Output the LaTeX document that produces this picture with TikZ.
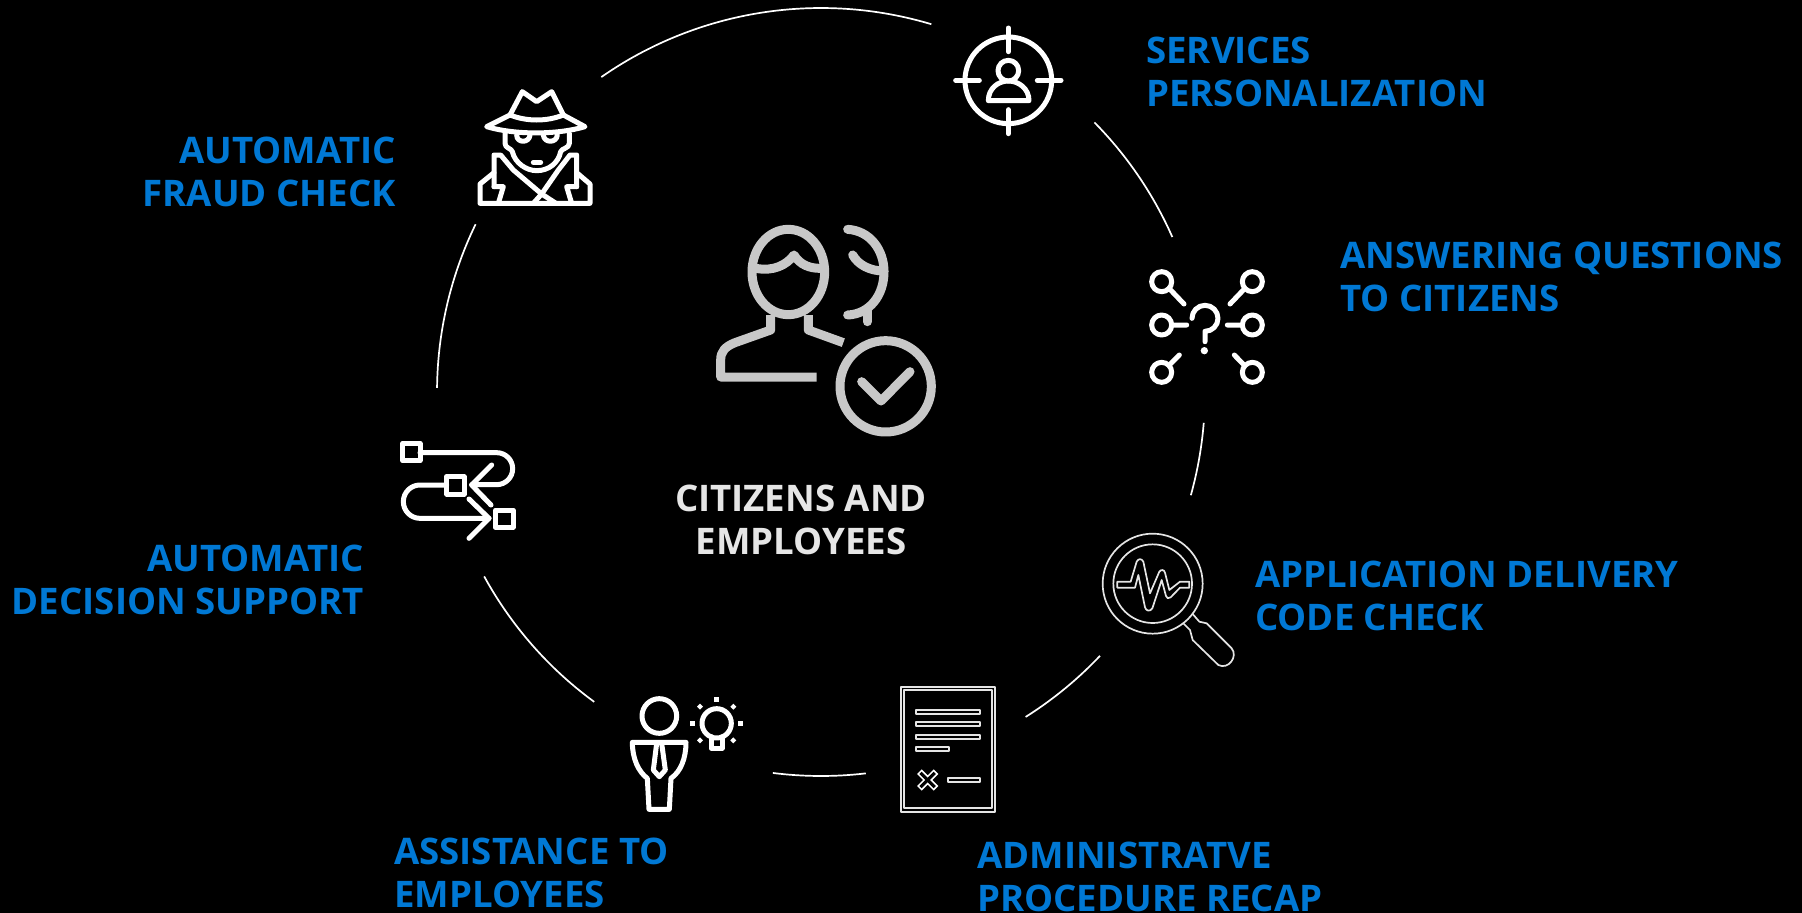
\documentclass[tikz,border=0pt]{standalone}
\usepackage{fontspec}
\setmainfont{Open Sans}
\definecolor{lblue}{HTML}{0078D4}
\definecolor{cgray}{HTML}{C8C8C8}
\definecolor{ctext}{HTML}{E6E6E6}
\tikzset{
  lab/.style={inner sep=0pt,text=lblue,font=\fontsize{36.6}{43}\selectfont\bfseries,align=left,anchor=base west},
  labr/.style={lab,align=right,anchor=base east},
  ring/.style={draw=white,line width=1.7pt},
  ico/.style={draw=white,line width=5pt,line cap=round,line join=round},
  big/.style={draw=cgray,line width=9pt,line cap=round,line join=round},
  thin/.style={draw=white!90!black,line width=1.7pt,line join=round}
}
\begin{document}
\begin{tikzpicture}[x=1pt,y=-1pt]
\fill[black] (0,0) rectangle (1802,913);
\useasboundingbox (0,0) rectangle (1802,913);
% ring arcs
\foreach \a/\b in {-124.9/-73.3,-44.6/-23.8,4.6/15.6,43.4/57.8,83.3/97.2,126.2/151.3,180.6/205.9}
  \draw[ring] (821,392) ++(\a:384) arc[start angle=\a,end angle=\b,radius=384];
% target icon
\begin{scope}[shift={(920,0)},scale=1/3]
  \draw[ico] (265,241) circle[radius=130];
  \draw[ico] (107,241)--(178,241) (352,241)--(423,241) (265,84)--(265,155) (265,329)--(265,401);
  \draw[ico] (265,212) circle[radius=31];
  \draw[ico] (205,302) .. controls (205,265) and (235,243) .. (265,243) .. controls (295,243) and (327,265) .. (327,302) -- cycle;
\end{scope}
% central icon
\begin{scope}[shift={(680,200)},scale=1/3]
  \draw[big] (325,216) ellipse[x radius=109,y radius=128];
  \draw[big] (228,205) .. controls (280,215) and (320,195) .. (342,165) .. controls (360,195) and (390,205) .. (420,205);
  \draw[big,line cap=butt] (272,345) -- (272,390) -- (165,428) .. controls (135,440) and (122,455) .. (122,480) -- (122,531) -- (410,531);
  \draw[big,line cap=butt] (385,345) -- (385,390) -- (490,428);
  \draw[big] (503,88) .. controls (570,92) and (612,150) .. (612,215) .. controls (612,285) and (570,342) .. (503,345);
  \draw[big] (518,165) .. controls (535,195) and (570,213) .. (612,213);
  \draw[big] (562,330) -- (562,365);
  \draw[big] (617,559) circle[radius=137];
  \draw[big] (545,545) -- (603,603) -- (690,515);
\end{scope}
% question network
\begin{scope}[shift={(1120,250)},scale=1/3]
  \foreach \p in {(125,95),(397,95),(125,225),(397,225),(125,367),(397,367)}
    \draw[ico] \p circle[radius=30];
  \draw[ico] (150,118)--(192,162) (372,118)--(330,162) (155,225)--(200,225) (322,225)--(365,225) (148,345)--(178,315) (372,345)--(343,315);
  \draw[ico] (216,205) arc[start angle=180,end angle=450,radius=39] -- (255,275);
  \fill[white] (253,302) circle[radius=11];
\end{scope}
% magnifier
\begin{scope}[shift={(1080,510)},scale=1/3]
  \draw[thin] (218,221) circle[radius=150];
  \draw[thin] (218,221) circle[radius=118];
  \draw[thin] (112,215) -- (152,215) -- (170,155) .. controls (175,145) and (185,145) .. (190,155) -- (210,250) -- (238,185) .. controls (243,178) and (252,178) .. (255,188) -- (268,240) -- (300,215) -- (328,215) -- (328,233) -- (300,233) -- (272,262) .. controls (265,267) and (260,265) .. (258,258) -- (245,210) -- (217,295) .. controls (210,306) and (198,303) .. (195,292) -- (175,195) -- (165,233) -- (112,233) -- cycle;
  \draw[thin] (338,312) -- (358,335) -- (380,340) -- (455,415) .. controls (475,440) and (445,480) .. (415,465) -- (338,390) -- (330,360) -- (310,340);
\end{scope}
% document
\begin{scope}[shift={(880,670)},scale=1/3]
  \draw[thin] (63,50) rectangle (345,425);
  \draw[thin] (73,60) rectangle (335,415);
  \draw[thin] (109,119) rectangle (299,131);
  \draw[thin] (109,157) rectangle (299,168);
  \draw[thin] (109,194) rectangle (299,206);
  \draw[thin] (109,232) rectangle (206,243);
  \draw[thin] (203,325) rectangle (299,336);
  \draw[white,line width=6.5pt] (118,305)--(168,355) (168,305)--(118,355);
  \draw[black,line width=3.2pt,shorten >=1.7pt,shorten <=1.7pt] (118,305)--(168,355);
  \draw[black,line width=3.2pt,shorten >=1.7pt,shorten <=1.7pt] (168,305)--(118,355);
\end{scope}
% person and bulb
\begin{scope}[shift={(610,680)},scale=1/3]
  \draw[ico] (148,108) circle[radius=52];
  \draw[ico] (67,187) -- (228,187) .. controls (228,235) and (212,275) .. (183,295) -- (178,388) -- (117,388) -- (112,295) .. controls (85,275) and (67,235) .. (67,187) -- cycle;
  \draw[ico] (140,190) -- (130,270) -- (148,290) -- (166,270) -- (155,190);
  \draw[ico] (320,130) circle[radius=44];
  \draw[ico] (304,170) -- (304,205) -- (336,205) -- (336,170);
  \foreach \p in {(319,58),(247,130),(391,130)}
    \fill[white] \p ++(-7,-7) rectangle ++(14,14);
  \foreach \p in {(270,80),(370,80),(270,181),(370,181)}
    \fill[white] \p ++(-9,0) -- ++(9,-9) -- ++(9,9) -- ++(-9,9) -- cycle;
\end{scope}
% flow icon
\begin{scope}[shift={(390,430)},scale=1/3]
  \draw[ico] (38,40) rectangle (90,92);
  \draw[ico] (170,140) rectangle (222,192);
  \draw[ico] (316,240) rectangle (369,292);
  \draw[ico] (90,68) -- (320,68) arc[start angle=-90,end angle=90,radius=48] -- (245,164);
  \draw[ico] (305,105) -- (245,165) -- (303,225);
  \draw[ico] (170,165) -- (90,165) arc[start angle=-90,end angle=-270,radius=50] -- (297,265);
  \draw[ico] (237,207) -- (297,265) -- (237,325);
\end{scope}
% detective
\begin{scope}[shift={(470,80)},scale=1/3]
  \draw[ico] (120,105) -- (157,35) -- (200,65) -- (245,35) -- (280,105);
  \draw[ico] (50,140) -- (120,105) .. controls (170,125) and (230,125) .. (280,105) -- (345,140) .. controls (260,165) and (135,165) .. (50,140) -- cycle;
  \draw[ico] (105,160) -- (105,190) .. controls (105,205) and (125,205) .. (127,215) .. controls (135,250) and (170,272) .. (200,272) .. controls (235,272) and (265,250) .. (272,215) .. controls (275,205) and (298,205) .. (298,190) -- (298,160);
  \draw[ico] (140,165) .. controls (140,190) and (178,190) .. (180,165);
  \draw[ico] (220,165) .. controls (222,190) and (260,190) .. (262,165);
  \draw[ico] (190,247) -- (212,247);
  \draw[ico] (72,320) -- (72,225) -- (92,225) -- (130,270) -- (215,342) -- (258,370);
  \draw[ico] (320,320) -- (320,225) -- (300,225) -- (265,270) -- (215,342) -- (190,370);
  \draw[ico] (72,278) -- (30,312) -- (30,370) -- (360,370) -- (360,312) -- (320,278);
  \draw[ico] (72,320) -- (100,320) -- (85,370);
  \draw[ico] (320,320) -- (290,320) -- (305,370);
\end{scope}
% labels
\node[lab] (services) at (1146,106) {SERVICES\\PERSONALIZATION};
\node[lab] (answering) at (1340,311.5) {ANSWERING QUESTIONS\\TO CITIZENS};
\node[lab] (application) at (1255,630.5) {APPLICATION DELIVERY\\CODE CHECK};
\node[lab] (admin) at (977,911) {ADMINISTRATVE\\PROCEDURE RECAP};
\node[lab] (assist) at (394,907.5) {ASSISTANCE TO\\EMPLOYEES};
\node[labr] (decision) at (364,614) {AUTOMATIC\\DECISION SUPPORT};
\node[labr] (fraud) at (396,206) {AUTOMATIC\\FRAUD CHECK};
\node[inner sep=0pt,text=ctext,font=\fontsize{36.6}{43}\selectfont\bfseries,align=center,anchor=base] (citizens) at (801,554) {CITIZENS AND\\EMPLOYEES};
\end{tikzpicture}
\end{document}
